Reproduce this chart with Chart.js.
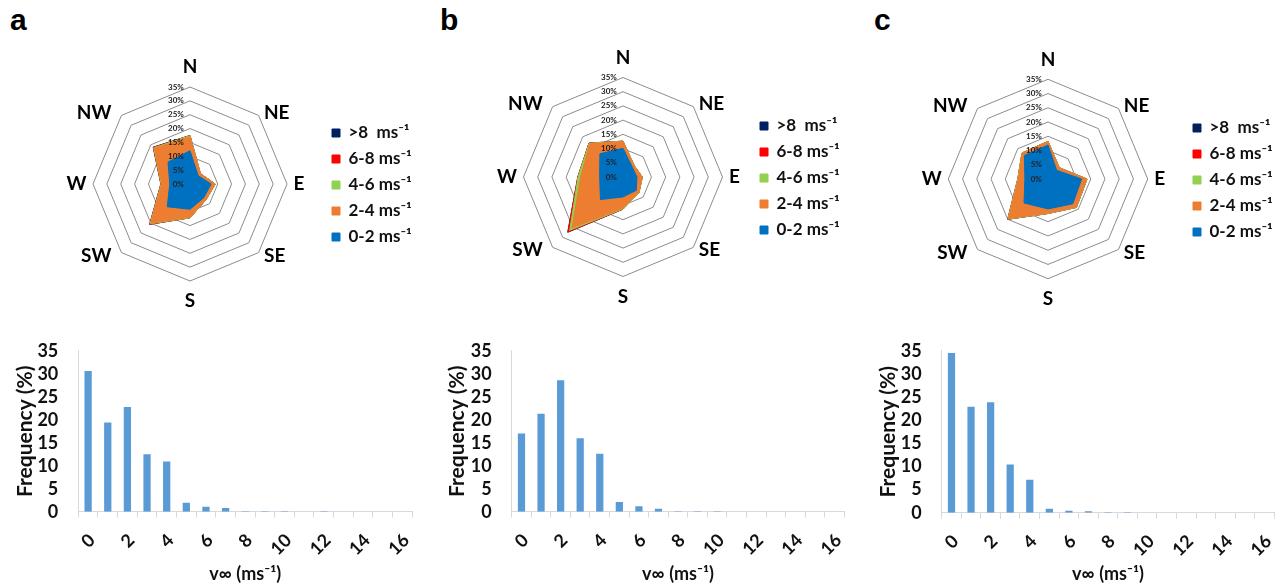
<!DOCTYPE html>
<html>
<head>
<meta charset="utf-8">
<script src="https://cdn.jsdelivr.net/npm/chart.js@4.4.1/dist/chart.umd.min.js"></script>
<style>
  html, body { margin: 0; padding: 0; background: #fff; width: 1283px; height: 585px; overflow: hidden; }
  canvas { position: absolute; }
  .tag { position: absolute; font: bold 30px "Liberation Sans", Arial, sans-serif; line-height: 30px; color: #000; }
</style>
</head>
<body>
<div class="tag" style="left:10px;top:5px">a</div>
<div class="tag" style="left:440px;top:5px">b</div>
<div class="tag" style="left:874px;top:5px">c</div>

<canvas id="roseA" width="400" height="290" style="left:40px;top:40px"></canvas>
<canvas id="roseB" width="410" height="294" style="left:460px;top:30px"></canvas>
<canvas id="roseC" width="420" height="294" style="left:880px;top:30px"></canvas>
<canvas id="histA" width="430" height="265" style="left:0px;top:320px"></canvas>
<canvas id="histB" width="432" height="265" style="left:430px;top:320px"></canvas>
<canvas id="histC" width="432" height="265" style="left:860px;top:320px"></canvas>

<script>
// wind rose: cumulative frequency (%) per direction, up to each speed class
const directions = ['N', 'NE', 'E', 'SE', 'S', 'SW', 'W', 'NW'];
const speedClasses = ['0-2 ms\u207B\u00B9', '2-4 ms\u207B\u00B9', '4-6 ms\u207B\u00B9', '6-8 ms\u207B\u00B9', '>8  ms\u207B\u00B9'];
const classColors = ['#0070C0', '#ED7D31', '#92D050', '#FF0000', '#002060'];
const radarTicks = [0, 5, 10, 15, 20, 25, 30, 35];
const radarTickLabels = ['0%', '5%', '10%', '15%', '20%', '25%', '30%', '35%'];

const roseA_2 = [12.0, 4.2, 7.6, 7.0, 9.1, 11.6, 7.3, 11.2];
const roseA_4 = [17.0, 5.2, 9.0, 8.0, 12.0, 20.0, 10.2, 18.2];
const roseA_6 = [17.4, 5.3, 9.1, 8.1, 12.2, 20.3, 10.4, 18.5];
const roseA_8 = [17.5, 5.3, 9.1, 8.1, 12.2, 20.5, 10.5, 18.7];
const roseA_all = [17.5, 5.3, 9.1, 8.1, 12.2, 20.6, 10.5, 18.8];

const roseB_2 = [10.1, 4.7, 4.9, 6.6, 7.0, 11.2, 8.2, 11.5];
const roseB_4 = [12.5, 5.5, 6.7, 7.8, 10.9, 25.3, 14.9, 16.5];
const roseB_6 = [12.6, 5.6, 6.8, 7.9, 11.2, 26.5, 15.8, 16.8];
const roseB_8 = [12.6, 5.6, 6.8, 7.9, 11.3, 27.4, 15.9, 16.9];
const roseB_all = [12.6, 5.6, 6.8, 7.9, 11.3, 27.5, 15.9, 16.9];

const roseC_2 = [11.9, 4.3, 11.8, 12.3, 10.5, 11.9, 8.1, 11.7];
const roseC_4 = [13.1, 5.5, 13.6, 14.0, 12.0, 19.6, 10.4, 12.8];
const roseC_6 = [13.2, 5.6, 13.7, 14.1, 12.1, 19.9, 10.6, 12.9];
const roseC_8 = [13.2, 5.6, 13.7, 14.1, 12.1, 20.0, 10.6, 12.9];
const roseC_all = [13.2, 5.6, 13.7, 14.1, 12.1, 20.0, 10.6, 12.9];

// speed histograms
const speedBins = ['0', '1', '2', '3', '4', '5', '6', '7', '8', '9', '10', '11', '12', '13', '14', '15', '16'];
const freqA = [30.6, 19.4, 22.8, 12.5, 10.9, 1.95, 1.08, 0.8, 0.1, 0.1, 0.1, 0, 0.1, 0, 0, 0, 0];
const freqB = [17.0, 21.3, 28.6, 16.0, 12.6, 2.1, 1.2, 0.66, 0.1, 0.1, 0.1, 0, 0, 0, 0, 0, 0];
const freqC = [34.5, 22.9, 23.9, 10.4, 7.1, 0.86, 0.4, 0.3, 0.1, 0.1, 0, 0, 0, 0, 0, 0, 0];

const FONT = 'Lato, "Open Sans", sans-serif';
Chart.defaults.font.family = FONT;
Chart.defaults.color = '#000';

// Excel puts the diagonal labels closer to the horizontal midline than Chart.js does,
// so pull them in radially and push them back out sideways with spaces
const labelPad = [2.5, -18, 0.5, -18, 2.5, -18, 0.5, -18];
function dirLabel(label, i) {
  if (i === 1 || i === 3) return '   ' + label;
  if (i === 5 || i === 7) return label + '    ';
  return label;
}

// target: centre, radius and legend left edge, in canvas px
function makeRose(id, series, target) {
  const pad = { left: 10, right: 20, top: 10, bottom: 10 };
  const chart = new Chart(document.getElementById(id), {
    type: 'radar',
    data: {
      labels: directions,
      datasets: series.map((d, i) => ({
        label: speedClasses[i],
        data: d,
        fill: true,
        backgroundColor: classColors[i],
        borderColor: classColors[i],
        borderWidth: 1,
        pointRadius: 0,
        tension: 0
      }))
    },
    options: {
      responsive: false,
      animation: false,
      devicePixelRatio: 1,
      layout: { padding: pad },
      plugins: {
        tooltip: { enabled: false },
        legend: {
          position: 'right',
          reverse: true,
          labels: {
            boxWidth: 8, boxHeight: 8, padding: 9, color: '#111',
            font: { size: 17, weight: 'bold' }
          }
        }
      },
      scales: {
        r: {
          min: -0.01,
          max: 35,
          afterBuildTicks: s => { s.ticks = radarTicks.map(v => ({ value: v })); },
          angleLines: { display: false },
          grid: { color: '#8c8c8c', lineWidth: 1 },
          pointLabels: {
            padding: ctx => labelPad[ctx.index],
            callback: dirLabel,
            color: '#000',
            font: { size: 19, weight: 'bold' }
          },
          ticks: {
            z: 1,
            showLabelBackdrop: false,
            color: '#222',
            font: { size: 8, weight: 'bold' },
            // keep labels just left of the north spoke
            callback: (v, i) => radarTickLabels[i].padStart(3, '\u2007') + '\u2003\u2003\u2003\u2003\u2002'
          }
        }
      }
    }
  });

  // nudge paddings until centre / radius / legend sit where they should
  for (let k = 0; k < 5; k++) {
    pad.right += chart.legend.left - target.legendLeft;
    chart.update();
    const s = chart.scales.r;
    pad.left += 2 * (target.cx - s.xCenter);
    const dr = target.r - s.drawingArea;
    const dy = target.cy - s.yCenter;
    pad.top = Math.max(0, pad.top + dy - dr);
    pad.bottom = Math.max(0, pad.bottom - dy - dr);
    chart.update();
  }
}

function makeHist(id, values, o) {
  new Chart(document.getElementById(id), {
    type: 'bar',
    data: {
      labels: speedBins,
      datasets: [{ data: values, backgroundColor: '#5B9BD5', barPercentage: 0.37, categoryPercentage: 1 }]
    },
    options: {
      responsive: false,
      animation: false,
      devicePixelRatio: 1,
      layout: { padding: { left: o.padL, right: o.padR, top: o.padT, bottom: 0 } },
      plugins: { legend: { display: false }, tooltip: { enabled: false } },
      scales: {
        x: {
          afterFit: s => { s.height = o.xH; },
          grid: { display: true, drawOnChartArea: false, tickLength: 6, color: '#d9d9d9' },
          border: { color: '#d9d9d9' },
          ticks: {
            autoSkip: false, minRotation: 45, maxRotation: 45, padding: 12, labelOffset: 4,
            color: '#111', font: { size: 18, weight: 'bold' },
            callback: (v, i) => (i % 2 === 0 ? speedBins[i] : '')
          },
          title: {
            display: true, text: 'v\u221E (ms\u207B\u00B9)', color: '#111',
            font: { size: 18, weight: 'bold' }, padding: { top: 0, bottom: 0 }
          }
        },
        y: {
          min: 0, max: 35,
          afterFit: s => { s.width = o.yW; },
          grid: { display: false, drawTicks: false },
          border: { display: true, color: '#d9d9d9' },
          ticks: { stepSize: 5, autoSkip: false, padding: 20, color: '#111', font: { size: 18, weight: 'bold' } },
          title: {
            display: true, text: 'Frequency (%)', color: '#111',
            font: { size: 21, weight: 'bold' }, padding: { top: 3, bottom: 0 }
          }
        }
      }
    }
  });
}

makeRose('roseA', [roseA_2, roseA_4, roseA_6, roseA_8, roseA_all], { cx: 150, cy: 144, r: 97, legendLeft: 283 });
makeRose('roseB', [roseB_2, roseB_4, roseB_6, roseB_8, roseB_all], { cx: 163, cy: 147, r: 99.5, legendLeft: 291 });
makeRose('roseC', [roseC_2, roseC_4, roseC_6, roseC_8, roseC_all], { cx: 168, cy: 149, r: 99.7, legendLeft: 304 });

makeHist('histA', freqA, { padL: 10, yW: 68.3, padR: 11.7, padT: 18.3, xH: 73.3 });
makeHist('histB', freqB, { padL: 12, yW: 69.7, padR: 3.4, padT: 14.8, xH: 73.3 });
makeHist('histC', freqC, { padL: 13, yW: 68.7, padR: 3.3, padT: 19, xH: 72.3 });
</script>
</body>
</html>
